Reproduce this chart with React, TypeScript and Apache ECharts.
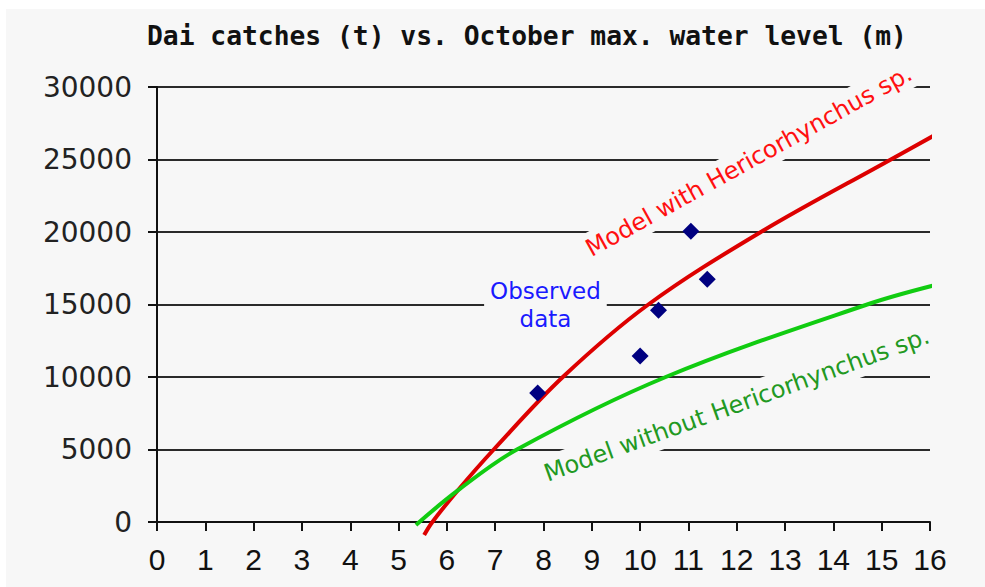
import { useEffect, useRef } from "react";
import * as echarts from "echarts";

// ---- data ----
const chartTitle = "Dai catches (t) vs. October max. water level (m)";

const observedX = [7.88, 10.0, 10.38, 11.05, 11.39];
const observedY = [8900, 11450, 14600, 20050, 16750];

const withX = [5.53, 5.7, 6.22, 6.97, 8.4, 10.17, 12.5, 15.19, 16.19];
const withY = [-900, 0, 2160, 5000, 10000, 15000, 20000, 25000, 26850];

const withoutX = [5.36, 6.22, 7.45, 10.53, 14.7, 16.18];
const withoutY = [-200, 2160, 5000, 10000, 15000, 16400];

const labelTexts = ["Model with Hericorhynchus sp.", "Model without Hericorhynchus sp.", "Observed\ndata"];
const labelAnchorX = [12.25, 12.0, 8.04];
const labelAnchorY = [24900, 8100, 14970];
const labelAngles = [29, 20, 0];

const xMin = 0;
const xMax = 16;
const xStep = 1;
const yMin = 0;
const yMax = 30000;
const yStep = 5000;

const zip = (xs: number[], ys: number[]) => xs.map((x, i) => [x, ys[i]]);

export default function App() {
  const ref = useRef<HTMLDivElement>(null);

  useEffect(() => {
    if (!ref.current) return;
    const chart = echarts.init(ref.current, null, { renderer: "svg" });
    const bg = "#f7f7f7";
    chart.setOption({
      animation: false,
      backgroundColor: bg,
      title: {
        text: chartTitle,
        left: 141,
        top: 14,
        padding: 0,
        textStyle: {
          fontFamily: "'DejaVu Sans Mono', monospace",
          fontWeight: "bold",
          fontSize: 26.3,
          color: "#111",
        },
      },
      grid: { left: 151, right: 55, top: 78, bottom: 65, containLabel: false },
      xAxis: {
        type: "value",
        min: xMin,
        max: xMax,
        interval: xStep,
        axisLine: { show: true, onZero: false, lineStyle: { color: "#111", width: 2 } },
        axisTick: { show: true, length: 9, inside: false, lineStyle: { color: "#111", width: 2 } },
        splitLine: { show: false },
        axisLabel: {
          margin: 22,
          fontFamily: "'Liberation Sans', Arial, sans-serif",
          fontSize: 30,
          lineHeight: 30,
          color: "#111",
        },
      },
      yAxis: {
        type: "value",
        min: yMin,
        max: yMax,
        interval: yStep,
        axisLine: { show: true, lineStyle: { color: "#111", width: 2 } },
        axisTick: { show: true, length: 9, inside: false, lineStyle: { color: "#111", width: 2 } },
        splitLine: { show: true, lineStyle: { color: "#2a2a2a", width: 2 } },
        axisLabel: {
          margin: 25,
          fontFamily: "'DejaVu Sans', sans-serif",
          fontSize: 28,
          color: "#222",
          formatter: (v: number) => String(v),
        },
      },
      series: [
        {
          type: "line",
          name: "with",
          data: zip(withX, withY),
          smooth: 0.35,
          showSymbol: false,
          clip: false,
          lineStyle: { color: "#dd0000", width: 4 },
          z: 3,
        },
        {
          type: "line",
          name: "without",
          data: zip(withoutX, withoutY),
          smooth: 0.35,
          showSymbol: false,
          clip: false,
          lineStyle: { color: "#11cc11", width: 4 },
          z: 3,
        },
        {
          type: "scatter",
          name: "observed",
          data: zip(observedX, observedY),
          symbol: "diamond",
          symbolSize: 17,
          itemStyle: { color: "#000080", opacity: 1 },
          z: 5,
        },
      ],
    });

    const colors = ["#ff1010", "#229922", "#1a1aff"];
    const fonts = ["24px 'DejaVu Sans', sans-serif", "24px 'DejaVu Sans', sans-serif", "23px 'DejaVu Sans', sans-serif"];
    const paddings = [[4, 4], [5, 4], [0, 6]];
    const graphic = labelTexts.map((t, i) => {
      const p = chart.convertToPixel({ gridIndex: 0 }, [labelAnchorX[i], labelAnchorY[i]]) as number[];
      return {
        type: "text",
        x: p[0],
        y: p[1],
        rotation: (labelAngles[i] * Math.PI) / 180,
        z: 10,
        style: {
          text: t,
          x: 0,
          y: 0,
          align: "center",
          verticalAlign: "middle",
          fill: colors[i],
          font: fonts[i],
          lineHeight: i === 2 ? 28 : 24,
          backgroundColor: bg,
          padding: paddings[i],
        },
      };
    });
    chart.setOption({ graphic });

    return () => chart.dispose();
  }, []);

  return (
    <div style={{ position: "fixed", left: 0, top: 0, width: 985, height: 587, background: "#fff" }}>
      <div ref={ref} style={{ position: "absolute", left: 6, top: 9, width: 979, height: 578 }} />
    </div>
  );
}
